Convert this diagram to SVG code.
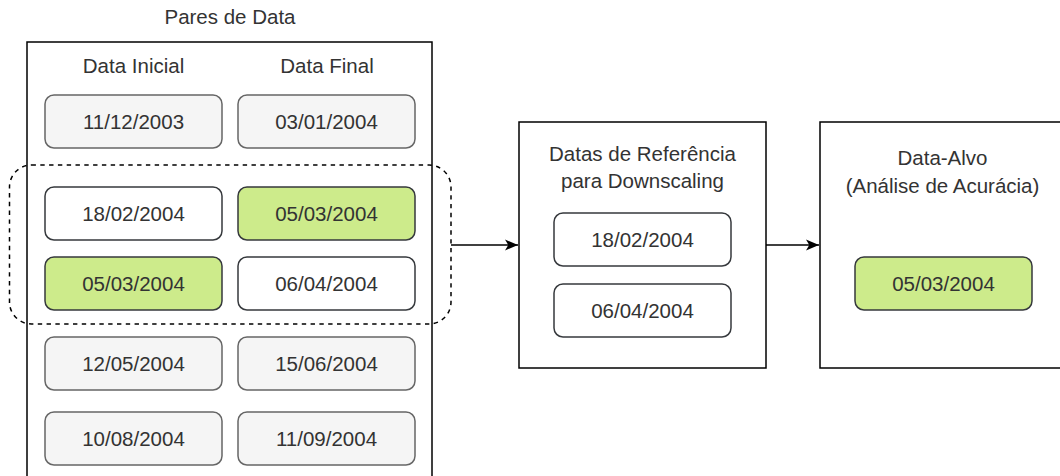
<svg xmlns="http://www.w3.org/2000/svg" width="1060" height="476" viewBox="0 0 1060 476">
  <style>
    .lbl { font-family: "Liberation Sans", Arial, sans-serif; font-size: 20.5px; fill: #333333; text-anchor: middle; dominant-baseline: central; }
    .frame { fill: #ffffff; stroke: #000000; stroke-width: 1.5; }
    .gray { fill: #f5f5f5; stroke: #666666; stroke-width: 1.5; }
    .white { fill: #ffffff; stroke: #36393d; stroke-width: 1.5; }
    .green { fill: #cdeb8b; stroke: #36393d; stroke-width: 1.5; }
    .group { fill: none; stroke: #000000; stroke-width: 1.5; stroke-dasharray: 4.4 4.4; }
    .edge { fill: none; stroke: #000000; stroke-width: 1.5; }
  </style>
  <defs>
    <marker id="arrow" viewBox="0 0 10 10" refX="10" refY="5" markerWidth="13" markerHeight="13" markerUnits="userSpaceOnUse" orient="auto">
      <path d="M0,0.8 L10,5 L0,9.2 L2.5,5 Z" fill="#000000"/>
    </marker>
  </defs>

  <rect width="1060" height="476" fill="#ffffff"/>

  <!-- Date pairs container -->
  <g id="pares-de-data">
    <text class="lbl" x="230" y="16">Pares de Data</text>
    <rect class="frame" x="27" y="42" width="405" height="450"/>
    <text class="lbl" x="133.5" y="65">Data Inicial</text>
    <text class="lbl" x="327" y="65">Data Final</text>
  </g>

  <g id="d-2003-12-11">
    <rect class="gray" x="45" y="95" width="177" height="53" rx="9"/>
    <text class="lbl" x="133.5" y="121.5">11/12/2003</text>
  </g>
  <g id="d-2004-01-03">
    <rect class="gray" x="238" y="95" width="177" height="53" rx="9"/>
    <text class="lbl" x="326.5" y="121.5">03/01/2004</text>
  </g>
  <g id="d-2004-02-18">
    <rect class="white" x="45" y="187" width="177" height="53" rx="9"/>
    <text class="lbl" x="133.5" y="213.5">18/02/2004</text>
  </g>
  <g id="d-2004-03-05-final">
    <rect class="green" x="238" y="187" width="177" height="53" rx="9"/>
    <text class="lbl" x="326.5" y="213.5">05/03/2004</text>
  </g>
  <g id="d-2004-03-05-inicial">
    <rect class="green" x="45" y="257" width="177" height="53" rx="9"/>
    <text class="lbl" x="133.5" y="283.5">05/03/2004</text>
  </g>
  <g id="d-2004-04-06">
    <rect class="white" x="238" y="257" width="177" height="53" rx="9"/>
    <text class="lbl" x="326.5" y="283.5">06/04/2004</text>
  </g>
  <g id="d-2004-05-12">
    <rect class="gray" x="45" y="337" width="177" height="53" rx="9"/>
    <text class="lbl" x="133.5" y="363.5">12/05/2004</text>
  </g>
  <g id="d-2004-06-15">
    <rect class="gray" x="238" y="337" width="177" height="53" rx="9"/>
    <text class="lbl" x="326.5" y="363.5">15/06/2004</text>
  </g>
  <g id="d-2004-08-10">
    <rect class="gray" x="45" y="412" width="177" height="53" rx="9"/>
    <text class="lbl" x="133.5" y="438.5">10/08/2004</text>
  </g>
  <g id="d-2004-09-11">
    <rect class="gray" x="238" y="412" width="177" height="53" rx="9"/>
    <text class="lbl" x="326.5" y="438.5">11/09/2004</text>
  </g>

  <!-- Selected pair group -->
  <g id="selecao">
    <rect class="group" x="9.5" y="165" width="441.5" height="159" rx="22"/>
  </g>

  <!-- Reference dates for downscaling -->
  <g id="referencia">
    <rect class="frame" x="519" y="122" width="247" height="246"/>
    <text class="lbl" x="642.5" y="153">Datas de Referência</text>
    <text class="lbl" x="642.5" y="180">para Downscaling</text>
  </g>
  <g id="ref-2004-02-18">
    <rect class="white" x="554" y="213" width="177" height="53" rx="9"/>
    <text class="lbl" x="642.5" y="239.5">18/02/2004</text>
  </g>
  <g id="ref-2004-04-06">
    <rect class="white" x="554" y="284" width="177" height="53" rx="9"/>
    <text class="lbl" x="642.5" y="310.5">06/04/2004</text>
  </g>

  <!-- Target date -->
  <g id="data-alvo">
    <rect class="frame" x="820" y="122" width="245" height="246"/>
    <text class="lbl" x="942.5" y="157">Data-Alvo</text>
    <text class="lbl" x="942.5" y="185">(Análise de Acurácia)</text>
  </g>
  <g id="alvo-2004-03-05">
    <rect class="green" x="855" y="257" width="177" height="53" rx="9"/>
    <text class="lbl" x="943.5" y="283.5">05/03/2004</text>
  </g>

  <!-- Connectors -->
  <g id="connectors">
    <path class="edge" d="M451,245 L518,245" marker-end="url(#arrow)"/>
    <path class="edge" d="M766,245 L819,245" marker-end="url(#arrow)"/>
  </g>
</svg>
